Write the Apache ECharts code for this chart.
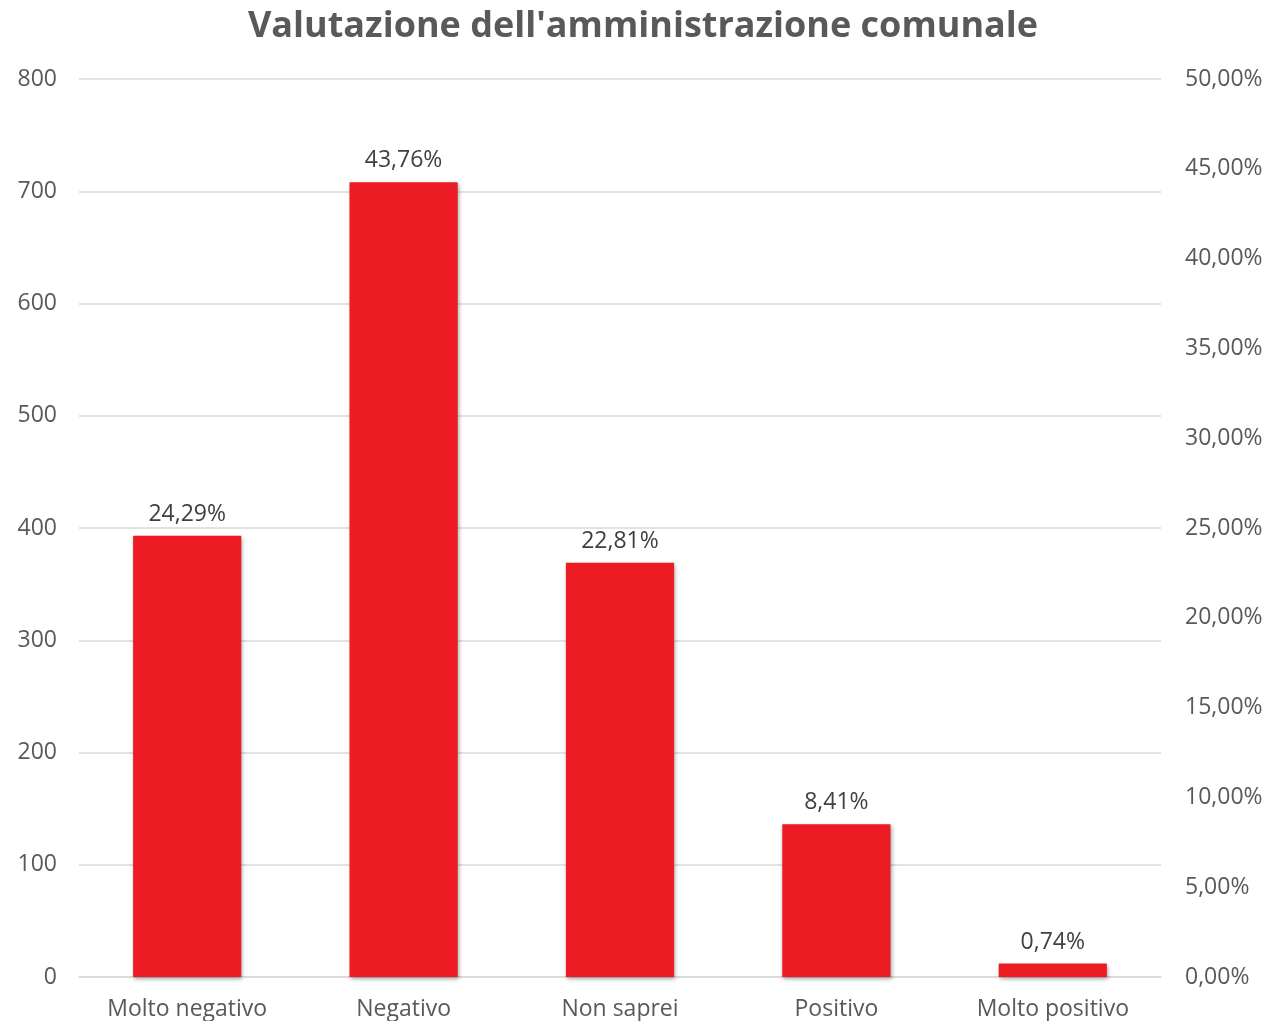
<!DOCTYPE html>
<html>
<head>
<meta charset="utf-8">
<script src="https://cdn.jsdelivr.net/npm/echarts@6/dist/echarts.min.js"></script>
<style>html,body{margin:0;padding:0;background:#fff}#c{width:1286px;height:1021px}</style>
</head>
<body>
<div id="c"></div>
<script>
var categories = ['Molto negativo', 'Negativo', 'Non saprei', 'Positivo', 'Molto positivo'];
var counts = [393, 708, 369, 136, 12];
var percentLabels = ['24,29%', '43,76%', '22,81%', '8,41%', '0,74%'];
var titleText = "Valutazione dell'amministrazione comunale";

var FONT = 'Open Sans';
var chart = echarts.init(document.getElementById('c'));
chart.setOption({
  animation: false,
  backgroundColor: '#fff',
  title: {
    text: titleText, left: 'center', top: 4,
    textStyle: { fontFamily: FONT, fontSize: 36, fontWeight: 'bold', color: '#595959' }
  },
  grid: { left: 79, right: 125, top: 79, bottom: 44 },
  xAxis: {
    type: 'category', data: categories,
    axisLine: { lineStyle: { color: '#d9d9d9', width: 1.5 } },
    axisTick: { show: false },
    axisLabel: { fontFamily: FONT, fontSize: 23, color: '#595959', margin: 21 }
  },
  yAxis: [
    {
      type: 'value', min: 0, max: 800, interval: 100,
      axisLabel: { fontFamily: FONT, fontSize: 23, color: '#595959', margin: 22 },
      splitLine: { lineStyle: { color: '#d9d9d9', width: 1.5 } },
      axisLine: { show: false }, axisTick: { show: false }
    },
    {
      type: 'value', min: 0, max: 0.5, interval: 0.05, position: 'right',
      axisLabel: {
        fontFamily: FONT, fontSize: 23, color: '#595959', margin: 24,
        formatter: function (v) { return (v * 100).toFixed(2).replace('.', ',') + '%'; }
      },
      splitLine: { show: false }, axisLine: { show: false }, axisTick: { show: false }
    }
  ],
  series: [{
    type: 'bar', data: counts, yAxisIndex: 0, barWidth: '50%',
    itemStyle: {
      color: '#ED1C24', shadowBlur: 4, shadowColor: 'rgba(0,0,0,0.35)',
      shadowOffsetX: 1, shadowOffsetY: 2
    },
    label: {
      show: true, position: 'top', distance: 10,
      fontFamily: FONT, fontSize: 23, color: '#404040',
      formatter: function (p) { return percentLabels[p.dataIndex]; }
    }
  }]
});
</script>
</body>
</html>
